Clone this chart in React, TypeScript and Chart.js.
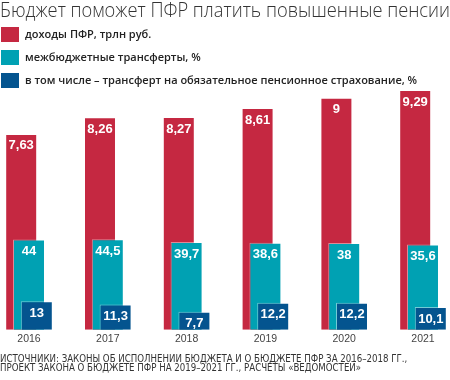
import { useEffect, useRef } from "react";
import { Chart, registerables } from "chart.js";

Chart.register(...registerables);

const TITLE = "Бюджет поможет ПФР платить повышенные пенсии";
const SOURCE_LINES = [
  "ИСТОЧНИКИ: ЗАКОНЫ ОБ ИСПОЛНЕНИИ БЮДЖЕТА И О БЮДЖЕТЕ ПФР ЗА 2016–2018 ГГ.,",
  "ПРОЕКТ ЗАКОНА О БЮДЖЕТЕ ПФР НА 2019–2021 ГГ., РАСЧЕТЫ «ВЕДОМОСТЕЙ»",
];

const years = ["2016", "2017", "2018", "2019", "2020", "2021"];
const revenue = [7.63, 8.26, 8.27, 8.61, 9, 9.29];
const transfers = [44, 44.5, 39.7, 38.6, 38, 35.6];
const pensionTransfers = [13, 11.3, 7.7, 12.2, 12.2, 10.1];

const seriesNames = [
  "доходы ПФР, трлн руб.",
  "межбюджетные трансферты, %",
  "в том числе – трансферт на обязательное пенсионное страхование, %",
];
const seriesColors = ["#C52841", "#00A1B3", "#04548F"];

// value-axis ranges (each series has its own visual scale in the original)
const revRange = [0.225, 10.24];
const trRange = [-107.7, 337.3];
const penRange = [-1.4, 132.1];

const fmt = (v: number) => String(v).replace(".", ",");

const orderedDrawPlugin = {
  id: "orderedDraw",
  beforeDatasetsDraw(chart: any) {
    const ctx = chart.ctx;
    chart.data.datasets.forEach((ds: any, i: number) => {
      const meta = chart.getDatasetMeta(i);
      meta.controller.draw();
      ctx.save();
      ctx.fillStyle = "#ffffff";
      ctx.font = "bold 13px 'Liberation Sans', Arial, sans-serif";
      ctx.textAlign = "center";
      ctx.textBaseline = "middle";
      meta.data.forEach((el: any, j: number) => {
        ctx.fillText(fmt(ds.data[j]), el.x, el.y + 12);
      });
      ctx.restore();
    });
    return false;
  },
};

const legendPlugin = {
  id: "stackedLegend",
  afterDraw(chart: any) {
    const ctx = chart.ctx;
    ctx.save();
    chart.data.datasets.forEach((ds: any, i: number) => {
      const cy = 34.5 + i * 23;
      ctx.fillStyle = ds.backgroundColor;
      ctx.fillRect(1, cy - 7.5, 18, 15);
      ctx.fillStyle = "#222222";
      ctx.font = "600 11px 'Open Sans', sans-serif";
      ctx.textAlign = "left";
      ctx.textBaseline = "middle";
      ctx.fillText(ds.label, 25, cy);
    });
    ctx.restore();
  },
};

const hiddenAxis = {
  ticks: { display: false },
  grid: { display: false, drawTicks: false },
  border: { display: false },
};

export default function App() {
  const ref = useRef<HTMLCanvasElement | null>(null);

  useEffect(() => {
    if (!ref.current) return;
    const common = {
      borderColor: "rgba(255,255,255,0.45)",
      borderWidth: 1,
      categoryPercentage: 0.297,
      barPercentage: 4.1,
    };
    const chart = new Chart(ref.current, {
      type: "bar",
      data: {
        labels: years,
        datasets: [
          { ...common, label: seriesNames[0], data: revenue, backgroundColor: seriesColors[0], yAxisID: "yRev", base: revRange[0] },
          { ...common, label: seriesNames[1], data: transfers, backgroundColor: seriesColors[1], yAxisID: "yTr", base: trRange[0] },
          { ...common, label: seriesNames[2], data: pensionTransfers, backgroundColor: seriesColors[2], yAxisID: "yPen", base: penRange[0] },
        ],
      },
      options: {
        responsive: false,
        animation: false,
        events: [],
        layout: { padding: 0 },
        plugins: {
          legend: { display: false },
          tooltip: { enabled: false },
          title: {
            display: true,
            text: TITLE,
            align: "start",
            color: "#333333",
            font: { family: "'Open Sans', sans-serif", size: 19.5, weight: "300", lineHeight: 1.2 },
            padding: { top: 0, bottom: 41.5 },
          },
          subtitle: {
            display: true,
            position: "bottom",
            align: "start",
            text: SOURCE_LINES,
            color: "#333333",
            font: { family: "'Liberation Sans Narrow', 'Arial Narrow', 'DejaVu Sans Condensed', sans-serif", size: 9.6, lineHeight: 0.92 },
            padding: { top: 6.5, bottom: 7.5 },
          },
        },
        scales: {
          x: {
            type: "category",
            offset: false,
            grid: { display: false, drawTicks: false },
            border: { display: false },
            ticks: {
              padding: 3,
              maxRotation: 0,
              autoSkip: false,
              color: "#444444",
              font: { family: "'Liberation Sans', Arial, sans-serif", size: 10.5, lineHeight: 1.2 },
            },
          },
          yRev: {
            ...hiddenAxis,
            position: "left",
            min: revRange[0],
            max: revRange[1],
            afterFit: (s: any) => { s.width = 29; },
          },
          yTr: {
            ...hiddenAxis,
            position: "right",
            min: trRange[0],
            max: trRange[1],
            afterFit: (s: any) => { s.width = 27; },
          },
          yPen: {
            display: false,
            min: penRange[0],
            max: penRange[1],
          },
        },
      } as any,
      plugins: [orderedDrawPlugin, legendPlugin],
    });
    return () => chart.destroy();
  }, []);

  return (
    <div style={{ position: "fixed", left: 0, top: 0, width: 450, height: 380, background: "#ffffff" }}>
      <canvas ref={ref} width={450} height={380} />
    </div>
  );
}
